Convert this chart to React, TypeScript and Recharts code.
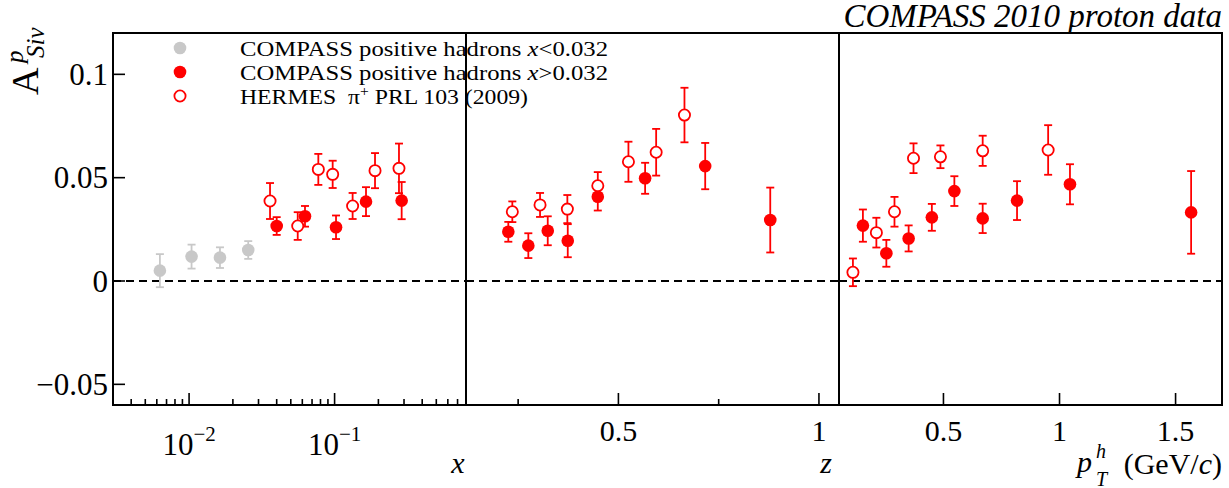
import React from 'react';
import { ScatterChart, Scatter, XAxis, YAxis, ErrorBar, ReferenceLine, ReferenceArea } from 'recharts';

const FONT = '"Liberation Serif", "Times New Roman", serif';
const RED = '#ff0000';
const GREY = '#c8c8c8';

// ---------- Panel 1: x ----------
const xLowX = [0.0063, 0.0104, 0.0163, 0.0255];
const xLowA = [0.005, 0.0118, 0.0113, 0.015];
const xLowE = [0.008, 0.0058, 0.005, 0.0043];

const xHighX = [0.04, 0.0626, 0.1023, 0.1644, 0.289];
const xHighA = [0.0266, 0.0313, 0.026, 0.0384, 0.0389];
const xHighE = [0.0043, 0.005, 0.0057, 0.007, 0.009];

const hermesX = [0.036, 0.0558, 0.0773, 0.097, 0.133, 0.1896, 0.277];
const hermesXA = [0.0387, 0.0266, 0.054, 0.0516, 0.0363, 0.0534, 0.0545];
const hermesXE = [0.0087, 0.0067, 0.0075, 0.0066, 0.0063, 0.0085, 0.012];

// ---------- Panel 2: z ----------
const zHighZ = [0.2255, 0.2754, 0.3238, 0.3737, 0.4486, 0.5666, 0.7164, 0.8786];
const zHighA = [0.0238, 0.0171, 0.0243, 0.0195, 0.0408, 0.0497, 0.0556, 0.0295];
const zHighE = [0.0048, 0.006, 0.007, 0.008, 0.0067, 0.0075, 0.0112, 0.0157];

const hermesZ = [0.2355, 0.3046, 0.3727, 0.4486, 0.525, 0.5941, 0.6647];
const hermesZA = [0.0335, 0.0368, 0.0348, 0.0461, 0.0577, 0.0623, 0.0803];
const hermesZE = [0.005, 0.0058, 0.0068, 0.0066, 0.0097, 0.0113, 0.0132];

// ---------- Panel 3: pT ----------
const ptHighPt = [0.153, 0.254, 0.35, 0.45, 0.547, 0.669, 0.817, 1.045, 1.567];
const ptHighA = [0.0268, 0.0134, 0.0206, 0.0308, 0.0435, 0.0303, 0.0389, 0.0468, 0.0332];
const ptHighE = [0.0078, 0.0065, 0.0063, 0.0065, 0.0072, 0.0071, 0.0094, 0.0097, 0.02];

const hermesPt = [0.11, 0.211, 0.289, 0.371, 0.487, 0.669, 0.951];
const hermesPtA = [0.0042, 0.0234, 0.0335, 0.0594, 0.0601, 0.063, 0.0634];
const hermesPtE = [0.0067, 0.0072, 0.0072, 0.0072, 0.0055, 0.0073, 0.012];

// ---------- Axes ----------
const yDomain = [-0.06, 0.12];
const yTicks = [-0.05, 0, 0.05, 0.1];

const xDomain = [0.003, 0.8];
const xTicks = [0.004, 0.005, 0.006, 0.007, 0.008, 0.009, 0.01, 0.02, 0.03, 0.04, 0.05, 0.06, 0.07, 0.08, 0.09, 0.1, 0.2, 0.3, 0.4, 0.5, 0.6, 0.7];
const xMajor = [0.01, 0.1];
const xMajorLabels = ['\u22122', '\u22121'];

const zDomain = [0.12, 1.05];
const zTicks = [0.25, 0.5, 0.75, 1];
const zMajor = [0.5, 1];

const ptDomain = [0.05, 1.7];
const ptTicks = [0.5, 1, 1.5];
const ptMajor = [0.5, 1, 1.5];

const build = (xs: number[], ys: number[], es: number[]) => xs.map((x, i) => ({ x, y: ys[i], e: es[i] }));

const W = 1229;
const H = 488;
const TOP = 33;
const PLOT_BOTTOM = 405;
const P1L = 113;
const P1R = 466;
const P2R = 839;
const P3R = 1222;

const fmtY = (v: number) => (v === 0 ? '0' : v < 0 ? '\u2212' + String(Math.abs(v)) : String(v));

const makeYTick = (showLabel: boolean) => (props: any) => {
  const { x, y, payload } = props;
  return (
    <g>
      <line x1={x} x2={x + 12} y1={y} y2={y} stroke="#000" strokeWidth={1.6} />
      {showLabel && (
        <text x={x - 5} y={y} dy="0.34em" textAnchor="end" fontSize={31} fontFamily={FONT} fill="#000">
          {fmtY(payload.value)}
        </text>
      )}
    </g>
  );
};

const makeXTick = (majors: number[], kind: 'log' | 'lin') => (props: any) => {
  const { x, y, payload } = props;
  const v = payload.value;
  const mi = majors.indexOf(v);
  const major = mi >= 0;
  return (
    <g>
      <line x1={x} x2={x} y1={y} y2={y - (major ? 12 : 6)} stroke="#000" strokeWidth={1.6} />
      {major && kind === 'lin' && (
        <text x={x} y={y + 36} textAnchor="middle" fontSize={30} fontFamily={FONT} fill="#000">
          {String(v)}
        </text>
      )}
      {major && kind === 'log' && (
        <text x={x} y={y + 50} textAnchor="middle" fontSize={31} fontFamily={FONT} fill="#000">
          10
          <tspan fontSize={21} dy={-14}>
            {xMajorLabels[mi]}
          </tspan>
        </text>
      )}
    </g>
  );
};

const filledShape = (color: string) => (props: any) => <circle cx={props.cx} cy={props.cy} r={6.3} fill={color} />;
const openShape = (props: any) => (
  <circle cx={props.cx} cy={props.cy} r={5.6} fill="#fff" stroke={RED} strokeWidth={1.8} />
);

function Panel(props: {
  left: number;
  right: number;
  yAxisWidth: number;
  showYLabels: boolean;
  xDomain: number[];
  xTicks: number[];
  xMajor: number[];
  log: boolean;
  series: { data: any[]; kind: 'grey' | 'open' | 'filled' }[];
}) {
  const { left, right, yAxisWidth, showYLabels, series } = props;
  return (
    <div style={{ position: 'absolute', left: 0, top: 0 }}>
      <ScatterChart
        width={W}
        height={H}
        margin={{ top: TOP, right: W - right, bottom: 0, left: left - yAxisWidth }}
        style={{ overflow: 'visible' }}
      >
        <XAxis
          type="number"
          dataKey="x"
          scale={props.log ? 'log' : 'linear'}
          domain={props.xDomain}
          ticks={props.xTicks}
          interval={0}
          allowDataOverflow
          height={H - PLOT_BOTTOM}
          tickSize={0}
          tickMargin={0}
          axisLine={false}
          tickLine={false}
          tick={makeXTick(props.xMajor, props.log ? 'log' : 'lin')}
        />
        <YAxis
          type="number"
          dataKey="y"
          domain={yDomain}
          ticks={yTicks}
          interval={0}
          allowDataOverflow
          width={yAxisWidth}
          tickSize={0}
          tickMargin={0}
          axisLine={false}
          tickLine={false}
          tick={makeYTick(showYLabels)}
        />
        <ReferenceArea
          x1={props.xDomain[0]}
          x2={props.xDomain[1]}
          y1={yDomain[0]}
          y2={yDomain[1]}
          fill="none"
          fillOpacity={0}
          stroke="#000"
          strokeWidth={2}
          ifOverflow="visible"
        />
        <ReferenceLine y={0} stroke="#000" strokeWidth={1.8} strokeDasharray="8 5" />
        {series.map((s, i) => (
          <Scatter
            key={i}
            data={s.data}
            isAnimationActive={false}
            shape={s.kind === 'open' ? openShape : filledShape(s.kind === 'grey' ? GREY : RED)}
          >
            <ErrorBar
              dataKey="e"
              direction="y"
              width={4}
              stroke={s.kind === 'grey' ? GREY : RED}
              strokeWidth={1.8}
            />
          </Scatter>
        ))}
      </ScatterChart>
    </div>
  );
}

export default function App() {
  return (
    <div style={{ position: 'absolute', left: 0, top: 0, width: W, height: H, background: '#fff', fontFamily: FONT }}>
      <Panel
        left={P1L}
        right={P1R}
        yAxisWidth={P1L}
        showYLabels
        xDomain={xDomain}
        xTicks={xTicks}
        xMajor={xMajor}
        log
        series={[
          { data: build(xLowX, xLowA, xLowE), kind: 'grey' },
          { data: build(hermesX, hermesXA, hermesXE), kind: 'open' },
          { data: build(xHighX, xHighA, xHighE), kind: 'filled' },
        ]}
      />
      <Panel
        left={P1R}
        right={P2R}
        yAxisWidth={0}
        showYLabels={false}
        xDomain={zDomain}
        xTicks={zTicks}
        xMajor={zMajor}
        log={false}
        series={[
          { data: build(hermesZ, hermesZA, hermesZE), kind: 'open' },
          { data: build(zHighZ, zHighA, zHighE), kind: 'filled' },
        ]}
      />
      <Panel
        left={P2R}
        right={P3R}
        yAxisWidth={0}
        showYLabels={false}
        xDomain={ptDomain}
        xTicks={ptTicks}
        xMajor={ptMajor}
        log={false}
        series={[
          { data: build(hermesPt, hermesPtA, hermesPtE), kind: 'open' },
          { data: build(ptHighPt, ptHighA, ptHighE), kind: 'filled' },
        ]}
      />
      <svg
        width={W}
        height={H}
        style={{ position: 'absolute', left: 0, top: 0, pointerEvents: 'none', overflow: 'visible' }}
      >
        {/* Title */}
        <text x={1222} y={27} textAnchor="end" fontSize={33} fontStyle="italic" fontFamily={FONT} fill="#000">
          COMPASS 2010 proton data
        </text>
        {/* Y axis title */}
        <g transform="translate(38,95) rotate(-90)">
          <text x={0} y={0} fontSize={38} fontFamily={FONT} fill="#000">A</text>
          <text x={32} y={-15} fontSize={25} fontStyle="italic" fontFamily={FONT} fill="#000">p</text>
          <text x={37} y={6} fontSize={25} fontStyle="italic" fontFamily={FONT} fill="#000">Siv</text>
        </g>
        {/* X axis titles */}
        <text x={458} y={473} textAnchor="middle" fontSize={30} fontStyle="italic" fontFamily={FONT} fill="#000">x</text>
        <text x={826} y={473} textAnchor="middle" fontSize={30} fontStyle="italic" fontFamily={FONT} fill="#000">z</text>
        <text x={1077} y={472} fontSize={30} fontStyle="italic" fontFamily={FONT} fill="#000">p</text>
        <text x={1096} y={458} fontSize={20} fontStyle="italic" fontFamily={FONT} fill="#000">h</text>
        <text x={1096} y={486} fontSize={20} fontStyle="italic" fontFamily={FONT} fill="#000">T</text>
        <text x={1222} y={474} textAnchor="end" fontSize={30} fontFamily={FONT} fill="#000">
          (GeV/<tspan fontStyle="italic">c</tspan>)
        </text>
        {/* Legend */}
        <circle cx={180} cy={48} r={6.3} fill={GREY} />
        <circle cx={180} cy={72} r={6.3} fill={RED} />
        <circle cx={180} cy={96} r={5.6} fill="#fff" stroke={RED} strokeWidth={1.8} />
        <text x={240} y={55.5} fontSize={21.4} textLength={368} lengthAdjust="spacingAndGlyphs" fontFamily={FONT} fill="#000">
          COMPASS positive hadrons <tspan fontStyle="italic">x</tspan>&lt;0.032
        </text>
        <text x={240} y={79.5} fontSize={21.4} textLength={368} lengthAdjust="spacingAndGlyphs" fontFamily={FONT} fill="#000">
          COMPASS positive hadrons <tspan fontStyle="italic">x</tspan>&gt;0.032
        </text>
        <text x={240} y={103.5} fontSize={21.4} textLength={288} lengthAdjust="spacingAndGlyphs" fontFamily={FONT} fill="#000">
          HERMES {'\u00a0'}π<tspan fontSize={14} dy={-8}>+</tspan>
          <tspan dy={8}> PRL 103 (2009)</tspan>
        </text>
      </svg>
    </div>
  );
}
